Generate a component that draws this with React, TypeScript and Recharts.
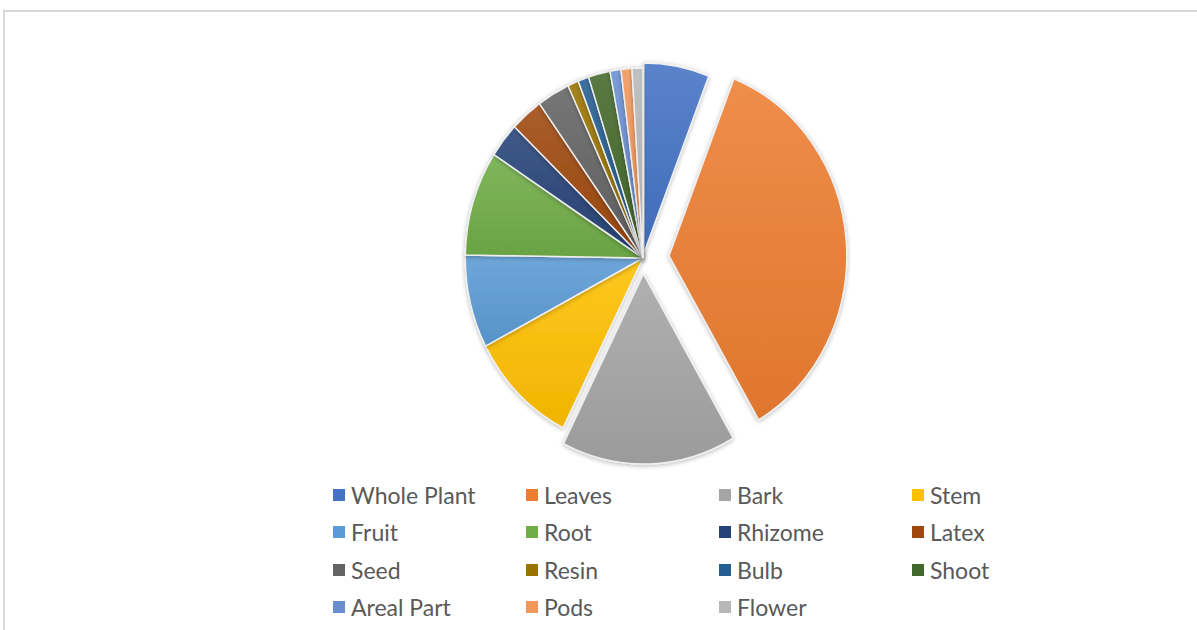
import React from 'react'
import { PieChart, Pie, Cell, Legend, Sector } from 'recharts'

// plant part used, number of reports
const parts = ['Whole Plant', 'Leaves', 'Bark', 'Stem', 'Fruit', 'Root', 'Rhizome', 'Latex', 'Seed', 'Resin', 'Bulb', 'Shoot', 'Areal Part', 'Pods', 'Flower']
const counts = [6, 36, 16, 10, 8, 9, 3, 3, 3, 1, 1, 2, 1, 1, 1]
const colors = ['#4472C4', '#ED7D31', '#A5A5A5', '#FFC000', '#5B9BD5', '#70AD47', '#264478', '#9E480E', '#636363', '#997300', '#255E91', '#43682B', '#698ED0', '#F1975A', '#B7B7B7']

const data = parts.map((part, i) => ({ part, count: counts[i] }))

// how far some slices are pulled out of the pie (px)
const explode: Record<string, number> = { 'Whole Plant': 5, Leaves: 28, Bark: 16 }

const FONT = 'Lato, "Liberation Sans", Arial, sans-serif'
const SX = 0.935 // the original pie is a little squeezed sideways

// mix a hex colour toward white (t > 0) or black (t < 0)
function shade(hex: string, t: number) {
  const n = parseInt(hex.slice(1), 16)
  const ch = [(n >> 16) & 255, (n >> 8) & 255, n & 255].map((c) =>
    Math.round(t > 0 ? c + (255 - c) * t : c * (1 + t))
  )
  return '#' + ch.map((c) => c.toString(16).padStart(2, '0')).join('')
}

function SliceShape(props: any) {
  const { cx, cy, innerRadius, outerRadius, startAngle, endAngle, midAngle, fill } = props
  const name = props.payload?.part ?? props.name
  const off = explode[name] ?? 0
  const a = (-midAngle * Math.PI) / 180
  const dx = off * Math.cos(a) * SX
  const dy = off * Math.sin(a)
  return (
    <g transform={`translate(${cx + dx} ${cy + dy}) scale(${SX} 1) translate(${-cx} ${-cy})`} filter="url(#softShadow)">
      <Sector
        cx={cx}
        cy={cy}
        innerRadius={innerRadius}
        outerRadius={outerRadius}
        startAngle={startAngle}
        endAngle={endAngle}
        fill={fill}
        stroke="#f0f0f0"
        strokeWidth={1.5}
      />
    </g>
  )
}

function LegendGrid({ payload }: any) {
  const items = [...(payload ?? [])].sort((a: any, b: any) => parts.indexOf(a.value) - parts.indexOf(b.value))
  return (
    <div
      style={{
        display: 'grid',
        gridTemplateColumns: 'repeat(4, 193px)',
        fontFamily: FONT,
        fontSize: 23,
        color: '#595959',
      }}
    >
      {items.map((p: any) => (
        <div key={p.value} style={{ display: 'flex', alignItems: 'center', height: 37.5, whiteSpace: 'nowrap' }}>
          <span style={{ width: 12, height: 12, background: colors[parts.indexOf(p.value)], marginRight: 6, flex: 'none' }} />
          <span>{p.value}</span>
        </div>
      ))}
    </div>
  )
}

export default function App() {
  return (
    <div style={{ position: 'fixed', left: 0, top: 0, width: 1197, height: 630, overflow: 'hidden', background: '#fff' }}>
      <div
        style={{
          position: 'absolute',
          left: 3,
          top: 10,
          width: 1300,
          height: 700,
          borderTop: '2px solid #d9d9d9',
          borderLeft: '2px solid #d9d9d9',
        }}
      />
      <div style={{ position: 'absolute', left: 0, top: 0 }}>
        <PieChart width={1197} height={630} margin={{ top: 0, right: 0, bottom: 0, left: 0 }}>
          <defs>
            <filter id="softShadow" x="-20%" y="-20%" width="140%" height="140%">
              <feDropShadow dx="0" dy="1" stdDeviation="2.5" floodColor="#000" floodOpacity="0.3" />
            </filter>
            {colors.map((c, i) => (
              <linearGradient key={i} id={`grad${i}`} x1="0" y1="0" x2="0" y2="1">
                <stop offset="0%" stopColor={shade(c, 0.12)} />
                <stop offset="100%" stopColor={shade(c, -0.06)} />
              </linearGradient>
            ))}
          </defs>
          <Pie
            data={data}
            dataKey="count"
            nameKey="part"
            cx={643}
            cy={258}
            innerRadius={0}
            outerRadius={190}
            startAngle={90}
            endAngle={-270}
            shape={SliceShape}
            isAnimationActive={false}
          >
            {data.map((d, i) => (
              <Cell key={d.part} fill={`url(#grad${i})`} />
            ))}
          </Pie>
          <Legend
            content={<LegendGrid />}
            wrapperStyle={{ left: 333, top: 476, bottom: 'auto', width: 800 }}
          />
        </PieChart>
      </div>
    </div>
  )
}
